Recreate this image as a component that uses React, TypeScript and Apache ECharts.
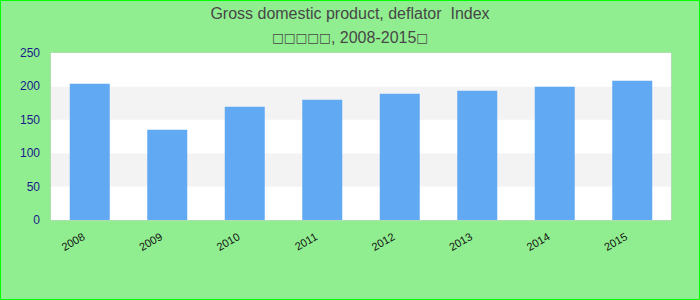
import React, { useEffect, useRef } from "react";
import * as echarts from "echarts";

const categories = ["2008", "2009", "2010", "2011", "2012", "2013", "2014", "2015"];
const values = [204, 135, 169.5, 180, 189, 193.5, 199.5, 208.5];
const titleLine1 = "Gross domestic product, deflator  Index";
const titleLine2Boxes = "□□□□□";
const titleLine2Text = ", 2008-2015";
const titleLine2End = "□";

export default function App() {
  const ref = useRef<HTMLDivElement>(null);
  useEffect(() => {
    if (!ref.current) return;
    const chart = echarts.init(ref.current, null, { renderer: "svg" });
    const base = {
      fontFamily: "Liberation Sans",
      fontSize: 16,
      color: "#474747",
      lineHeight: 24,
    };
    chart.setOption({
      animation: false,
      backgroundColor: "#90ee90",
      title: {
        text:
          "{a|" + titleLine1 + "}\n{b|" + titleLine2Boxes + "}{a|" + titleLine2Text + "}{b|" + titleLine2End + "}",
        left: "center",
        top: -4,
        textStyle: {
          ...base,
          fontWeight: "normal",
          rich: {
            a: { ...base },
            b: { ...base, fontFamily: "DejaVu Sans", fontSize: 12.5 },
          },
        },
      },
      graphic: [
        {
          type: "rect",
          shape: { x: 0.5, y: 0.5, width: 699, height: 299 },
          style: { fill: "none", stroke: "#00ff00", lineWidth: 1 },
          silent: true,
        },
      ],
      grid: {
        left: 51,
        right: 29,
        top: 53,
        bottom: 80,
        show: true,
        borderColor: "#cccccc",
        borderWidth: 1,
        backgroundColor: "#ffffff",
      },
      xAxis: {
        type: "category",
        data: categories,
        axisLine: { show: false },
        axisTick: { show: false },
        axisLabel: {
          rotate: 30,
          fontSize: 11,
          color: "#111",
          fontFamily: "Liberation Sans",
          margin: 12,
          padding: [0, 7, 0, 0],
        },
      },
      yAxis: {
        type: "value",
        min: 0,
        max: 250,
        interval: 50,
        axisLine: { show: false },
        axisTick: { show: false },
        splitLine: { show: false },
        splitArea: { show: true, areaStyle: { color: ["#ffffff", "#f3f3f3"] } },
        axisLabel: { fontSize: 12, color: "#1a1a8a", margin: 11 },
      },
      series: [
        {
          type: "bar",
          data: values,
          barWidth: 40,
          itemStyle: { color: "#62a9f4" },
        },
      ],
    });
    return () => chart.dispose();
  }, []);
  return (
    <div
      ref={ref}
      style={{ position: "fixed", left: 0, top: 0, width: 700, height: 300 }}
    />
  );
}
